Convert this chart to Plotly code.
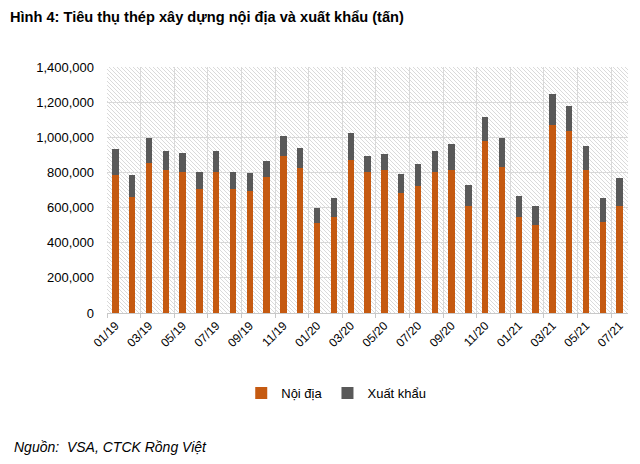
import base64
import plotly.graph_objects as go

months = ["01/19","02/19","03/19","04/19","05/19","06/19","07/19","08/19","09/19","10/19","11/19","12/19",
          "01/20","02/20","03/20","04/20","05/20","06/20","07/20","08/20","09/20","10/20","11/20","12/20",
          "01/21","02/21","03/21","04/21","05/21","06/21","07/21"]
totals = [931000, 784000, 996000, 924000, 912000, 802000, 922000, 802000, 795000, 867000, 1005000, 941000,
          599000, 656000, 1023000, 893000, 905000, 793000, 850000, 922000, 960000, 728000, 1117000, 996000,
          666000, 611000, 1246000, 1180000, 950000, 656000, 766000]
domestic = [785000, 658000, 852000, 814000, 804000, 704000, 804000, 704000, 694000, 776000, 895000, 823000,
            510000, 548000, 871000, 804000, 814000, 685000, 723000, 804000, 814000, 610000, 979000, 833000,
            548000, 501000, 1070000, 1036000, 814000, 520000, 610000]
export = [t - d for t, d in zip(totals, domestic)]

y_max = 1400000
y_step = 200000

BASE = "Liberation Sans, Arial, sans-serif"

idx = list(range(len(months)))
label_pos = idx[::2]
label_text = months[::2]
boundaries = [i - 0.5 for i in idx[::2]]

# hatched background texture for the plot area (decorative)
W, H, S = 521, 246, 4
lines = []
for k in range(-H, W + H, S):
    lines.append(f'<line x1="{k}" y1="0" x2="{k + H}" y2="{H}"/>')
svg = (f'<svg xmlns="http://www.w3.org/2000/svg" width="{W}" height="{H}" viewBox="0 0 {W} {H}" '
       f'preserveAspectRatio="none"><g stroke="#d6d6d6" stroke-width="0.9">' + "".join(lines) + '</g></svg>')
hatch_src = "data:image/svg+xml;base64," + base64.b64encode(svg.encode()).decode()

fig = go.Figure()
fig.add_trace(go.Bar(x=idx, y=domestic, name="Nội địa", customdata=months,
                     marker=dict(color="#C55A11", line=dict(width=0)), width=0.38))
fig.add_trace(go.Bar(x=idx, y=export, name="Xuất khẩu", customdata=months,
                     marker=dict(color="#595959", line=dict(width=0)), width=0.38))

fig.update_layout(
    width=640, height=464,
    margin=dict(l=107, r=12, t=67, b=151),
    paper_bgcolor="white", plot_bgcolor="rgba(0,0,0,0)",
    barmode="stack",
    font=dict(family=BASE, color="#000000", size=12),
    title=dict(text="<b>Hình 4: Tiêu thụ thép xây dựng nội địa và xuất khẩu (tấn)</b>",
               x=10/640, xref="container", xanchor="left",
               y=1-17/464, yref="container", yanchor="middle",
               font=dict(family=BASE, size=14.6, color="#000000")),
    images=[dict(source=hatch_src, xref="paper", yref="paper", x=0, y=1, sizex=1, sizey=1,
                 xanchor="left", yanchor="top", sizing="stretch", layer="below")],
    xaxis=dict(range=[-0.5, len(months) - 0.5],
               tickmode="array", tickvals=label_pos, ticktext=label_text,
               showgrid=False, zeroline=False,
               showline=True, linecolor="#c8c8c8", linewidth=1,
               ticks="", tickangle=-45, tickfont=dict(size=12, family=BASE, color="#000000"),
               minor=dict(tickmode="array", tickvals=boundaries, showgrid=True,
                          gridcolor="#d9d9d9", gridwidth=1,
                          ticks="outside", ticklen=4, tickcolor="#c8c8c8")),
    yaxis=dict(range=[0, y_max], dtick=y_step, tickformat=",",
               showgrid=True, gridcolor="#d9d9d9", gridwidth=1, zeroline=False,
               showline=False, ticks="", ticklabelstandoff=12,
               tickfont=dict(size=13, family=BASE, color="#000000")),
    legend=dict(orientation="h", x=0.44, xanchor="center", y=-0.325, yanchor="middle",
                font=dict(size=13, family=BASE, color="#000000"), traceorder="normal",
                itemwidth=30),
    bargap=0.6,
)

fig.add_annotation(text="<i>Nguồn:  VSA, CTCK Rồng Việt</i>", xref="paper", yref="paper",
                   x=(12-107)/521, y=-0.545, xanchor="left", yanchor="middle", showarrow=False,
                   font=dict(size=14, family=BASE, color="#000000"))

fig.write_html("out.html", config={"displayModeBar": False},
               post_script="document.body.style.margin='0';")
